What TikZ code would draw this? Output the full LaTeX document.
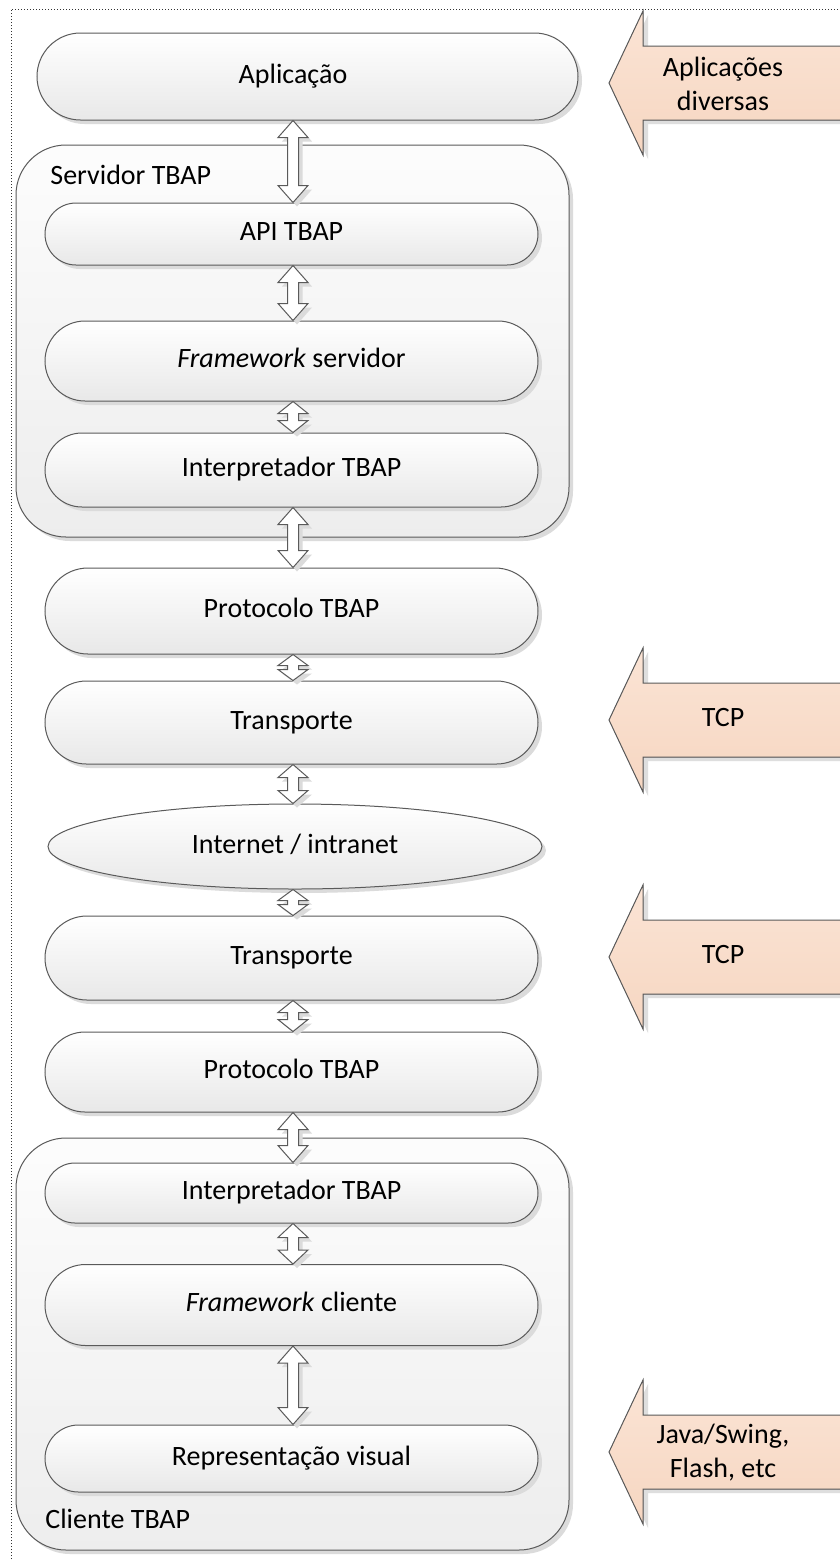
\documentclass[tikz,border=0pt]{standalone}
\usepackage{fontspec}
\setmainfont{Carlito}
\usetikzlibrary{shapes.misc,shapes.geometric,shadows,calc}
\definecolor{edge}{RGB}{90,90,90}
\definecolor{ortop}{RGB}{251,228,213}
\definecolor{orbot}{RGB}{246,214,193}
% #1 top node, #2 bottom node, #3 head length (px)
\newcommand\dblarr[3]{%
  \coordinate (T) at (#1.south -| ax);
  \coordinate (B) at (#2.north -| ax);
  \fill[black!14] ($(T)+(4,4)$) -- ($(T)+(19,#3+4)$) -- ($(T)+(9.5,#3+4)$) -- ($(B)+(9.5,-#3+4)$) -- ($(B)+(19,-#3+4)$) -- ($(B)+(4,4)$) -- ($(B)+(-11,-#3+4)$) -- ($(B)+(-1.5,-#3+4)$) -- ($(T)+(-1.5,#3+4)$) -- ($(T)+(-11,#3+4)$) -- cycle;
  \draw[arrbody] (T) -- ($(T)+(15,#3)$) -- ($(T)+(5.5,#3)$) -- ($(B)+(5.5,-#3)$) -- ($(B)+(15,-#3)$) -- (B) -- ($(B)+(-15,-#3)$) -- ($(B)+(-5.5,-#3)$) -- ($(T)+(-5.5,#3)$) -- ($(T)+(-15,#3)$) -- cycle;
}
\newcommand\orarrow[1]{%
  \fill[black!13] (848,#1-33) -- (648,#1-33) -- (648,#1-68) -- (614,#1+4) -- (648,#1+76) -- (648,#1+41) -- (848,#1+41) -- cycle;
  \fill[top color=ortop, bottom color=orbot] (848,#1-37) -- (643,#1-37) -- (643,#1-72) -- (609,#1) -- (643,#1+72) -- (643,#1+37) -- (848,#1+37) -- cycle;
  \draw[edge, line width=0.5pt, line join=miter] (848,#1-37) -- (643,#1-37) -- (643,#1-72) -- (609,#1) -- (643,#1+72) -- (643,#1+37) -- (848,#1+37);
}
\begin{document}
\begin{tikzpicture}[x=0.5pt,y=-0.5pt,
  every node/.style={font=\fontsize{14pt}{17pt}\selectfont, inner sep=0pt, text height=9.5pt, text depth=3pt},
  layer/.style={rounded rectangle, draw=edge, line width=0.5pt, top color=white, bottom color=black!9,
    drop shadow={shadow xshift=2pt, shadow yshift=-2pt, fill=black!14, opacity=1},
    minimum width=246.5pt},
  cont/.style={rectangle, rounded corners=25pt, draw=edge, line width=0.5pt, top color=black!1, bottom color=black!7,
    drop shadow={shadow xshift=2pt, shadow yshift=-2pt, fill=black!14, opacity=1},
    minimum width=276.5pt},
  oval/.style={ellipse, draw=edge, line width=0.5pt, top color=white, bottom color=black!9,
    drop shadow={shadow xshift=2pt, shadow yshift=-2pt, fill=black!14, opacity=1}},
  arrbody/.style={draw=edge, line width=0.5pt, fill=white, line join=miter},
  lbl/.style={align=center, text height=, text depth=}
]
\useasboundingbox (0,0) rectangle (840,1560);
\clip (0,0) rectangle (840,1560);
\fill[white] (0,0) rectangle (840,1560);
\draw[black!80, densely dotted, line width=0.5pt] (11,1565) -- (11,9) -- (845,9);
\coordinate (ax) at (293,0);

% orange arrows
\orarrow{83}
\orarrow{720}
\orarrow{957}
\orarrow{1452}
\node[lbl] (od1) at (723,84) {Aplicações\\diversas};
\node (od2) at (723,720) {TCP};
\node (od3) at (723,957) {TCP};
\node[lbl] (od4) at (723,1453) {Java/Swing,\\Flash, etc};

% layers
\node[layer, minimum width=270.5pt, minimum height=43.5pt] (apl) at (307.5,76.5) {};
\node (aplt) at (293,76.5) {Aplicação};
\node[cont, minimum height=196pt] (srv) at (292.5,341) {};
\node[anchor=west] (srvl) at (50,178) {Servidor TBAP};
\node[layer, minimum height=31pt] (api) at (291.5,234) {API TBAP};
\node[layer, minimum height=40pt] (fws) at (291.5,361) {\textit{Framework} servidor};
\node[layer, minimum height=37pt] (ints) at (291.5,470) {Interpretador TBAP};
\node[layer, minimum height=43pt] (prot1) at (291.5,611) {Protocolo TBAP};
\node[layer, minimum height=41.5pt] (tr1) at (291.5,722.5) {Transporte};
\node[oval, minimum width=247pt, minimum height=42.5pt] (inet) at (295,846.5) {Internet / intranet};
\node[layer, minimum height=42pt] (tr2) at (291.5,958) {Transporte};
\node[layer, minimum height=40pt] (prot2) at (291.5,1072) {Protocolo TBAP};
\node[cont, minimum height=206pt] (cli) at (292.5,1344) {};
\node[layer, minimum height=30pt] (intc) at (291.5,1193) {Interpretador TBAP};
\node[layer, minimum height=40.5pt] (fwc) at (291.5,1305) {\textit{Framework} cliente};
\node[layer, minimum height=33.5pt] (rep) at (291.5,1458.5) {Representação visual};
\node[anchor=west] (clil) at (45,1522) {Cliente TBAP};

% double arrows
\dblarr{apl}{api}{17}
\dblarr{api}{fws}{17}
\dblarr{fws}{ints}{12}
\dblarr{ints}{prot1}{17}
\dblarr{prot1}{tr1}{11}
\dblarr{tr1}{inet}{13}
\dblarr{inet}{tr2}{11}
\dblarr{tr2}{prot2}{12}
\dblarr{prot2}{intc}{17}
\dblarr{intc}{fwc}{14}
\dblarr{fwc}{rep}{17}
\end{tikzpicture}
\end{document}
